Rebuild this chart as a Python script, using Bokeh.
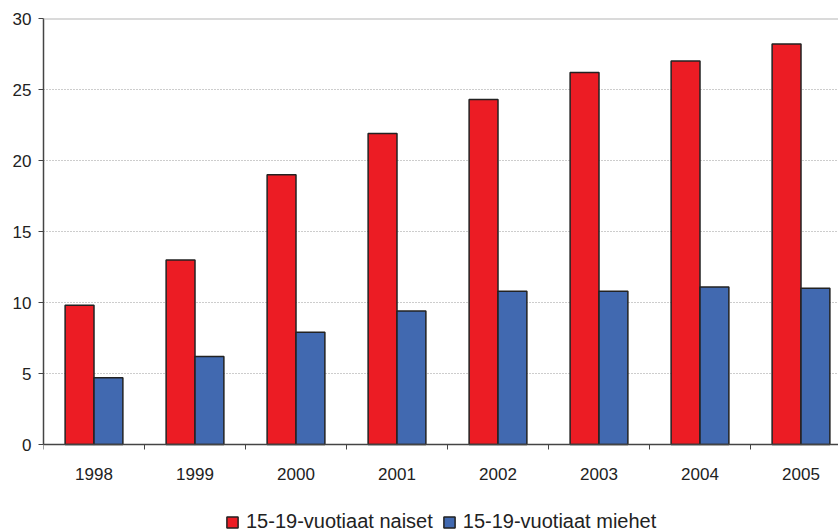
from bokeh.plotting import figure
from bokeh.models import FixedTicker, Span, ColumnDataSource, Legend, LegendItem
from bokeh.embed import file_html
from bokeh.resources import INLINE

years = ["1998", "1999", "2000", "2001", "2002", "2003", "2004", "2005"]
naiset = [9.8, 13.0, 19.0, 21.9, 24.3, 26.2, 27.0, 28.2]
miehet = [4.7, 6.2, 7.9, 9.4, 10.8, 10.8, 11.1, 11.0]
y_ticks = [0, 5, 10, 15, 20, 25, 30]
label_naiset = "15-19-vuotiaat naiset"
label_miehet = "15-19-vuotiaat miehet"

RED = "#ec1c24"
BLUE = "#4169b0"
FONT = "Liberation Sans"

n = len(years)
bw = 0.286
centers = [i + 0.5 for i in range(n)]
src = ColumnDataSource(dict(
    xr=[c - bw / 2 for c in centers],
    xb=[c + bw / 2 for c in centers],
    naiset=naiset,
    miehet=miehet,
))

W, H = 838, 532
TOP = 18
# 30 units span 426 px; the frame continues below 0 to hold labels and legend
px_per_unit = 426 / 30.0
ymin = -(H - TOP - 426) / px_per_unit

p = figure(width=W, height=H, output_backend="svg", toolbar_location=None,
           x_range=(0, 795 / 101.0), y_range=(ymin, 30),
           min_border_left=43, min_border_right=0, min_border_top=TOP, min_border_bottom=0)
p.outline_line_color = None
p.background_fill_color = "white"
p.border_fill_color = "white"

r1 = p.vbar(x="xr", top="naiset", width=bw, source=src, fill_color=RED,
            line_color="#222222", line_width=1.5)
r2 = p.vbar(x="xb", top="miehet", width=bw, source=src, fill_color=BLUE,
            line_color="#222222", line_width=1.5)

p.add_layout(Span(location=30, dimension="width", line_color="#b5b5b5", line_width=2))

# grid
p.xgrid.visible = False
p.ygrid.ticker = FixedTicker(ticks=y_ticks)
p.ygrid.grid_line_color = "#9a9a9a"
p.ygrid.grid_line_dash = "1 2"
p.ygrid.grid_line_width = 1

# y axis
p.yaxis.ticker = FixedTicker(ticks=y_ticks)
p.yaxis.bounds = (0, 30)
p.yaxis.axis_line_color = "#444444"
p.yaxis.axis_line_width = 1.5
p.yaxis.major_tick_line_color = "#444444"
p.yaxis.major_tick_out = 5
p.yaxis.major_tick_in = 0
p.yaxis.minor_tick_line_color = None
p.yaxis.major_label_text_font = FONT
p.yaxis.major_label_text_font_size = "17px"
p.yaxis.major_label_text_color = "#222222"
p.yaxis.major_label_standoff = 7

# x axis at y=0: labels at centers, tick marks at boundaries
p.xaxis.fixed_location = 0
p.xaxis.ticker = FixedTicker(ticks=centers, minor_ticks=list(range(n + 1)))
p.xaxis.major_label_overrides = {c: y for c, y in zip(centers, years)}
p.xaxis.axis_line_color = "#444444"
p.xaxis.axis_line_width = 1.5
p.xaxis.major_tick_out = 0
p.xaxis.major_tick_in = 0
p.xaxis.minor_tick_out = 5
p.xaxis.minor_tick_in = 0
p.xaxis.minor_tick_line_color = "#444444"
p.xaxis.major_label_text_font = FONT
p.xaxis.major_label_text_font_size = "17px"
p.xaxis.major_label_text_color = "#222222"
p.xaxis.major_label_standoff = 18

# legend at the bottom
lg = Legend(items=[LegendItem(label=label_naiset, renderers=[r1]),
                   LegendItem(label=label_miehet, renderers=[r2])])
lg.orientation = "horizontal"
lg.location = (182, -1)
lg.border_line_color = None
lg.background_fill_alpha = 0
lg.padding = 0
lg.margin = 0
lg.spacing = 9
lg.glyph_width = 14
lg.glyph_height = 14
lg.label_standoff = 7
lg.label_text_font = FONT
lg.label_text_font_size = "20px"
lg.label_text_color = "#222222"
p.add_layout(lg, "center")

open("out.html", "w").write(file_html(p, INLINE))
